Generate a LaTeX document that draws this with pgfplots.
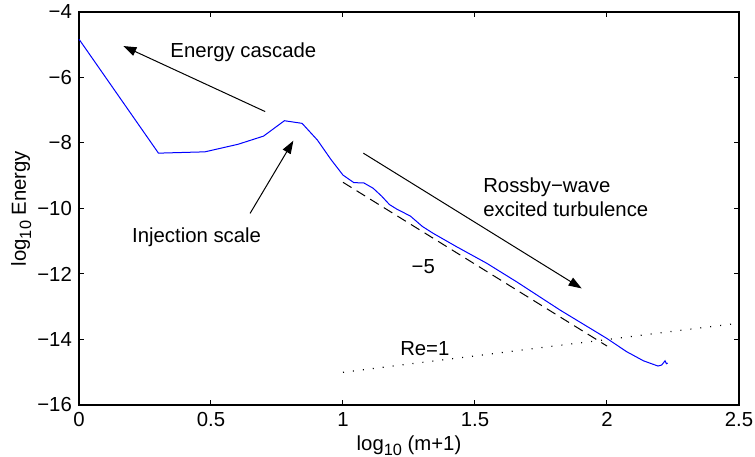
\documentclass[border=0pt]{standalone}
\usepackage{fontspec}
\setmainfont{Liberation Sans}
\usepackage{pgfplots}
\pgfplotsset{compat=1.18}
\usetikzlibrary{arrows.meta}
\newcommand{\sub}[1]{\raisebox{-0.5ex}{\fontsize{8.2}{9}\selectfont #1}}
\begin{document}
\fontsize{10.2}{12}\selectfont
\begin{tikzpicture}
\begin{axis}[name=ax, at={(0,0)}, anchor=south west,
  scale only axis, width=330bp, height=196.5bp,
  xmin=0, xmax=2.5, ymin=-16, ymax=-4,
  xtick={0,0.5,1,1.5,2,2.5}, xticklabels={0,0.5,1,1.5,2,2.5},
  ytick={-16,-14,-12,-10,-8,-6,-4},
  yticklabels={−16,−14,−12,−10,−8,−6,−4},
  tick align=inside, major tick length=2.5bp,
  tick style={black, line width=0.5bp},
  axis line style={line width=0.6bp},
  every tick label/.append style={font=\fontsize{10.2}{12}\selectfont},
  xticklabel style={yshift=0bp},
  xlabel={log\sub{10} (m+1)}, ylabel={log\sub{10} Energy},
  label style={font=\fontsize{10.2}{12}\selectfont},
  xlabel style={yshift=2.5bp},
  ylabel style={yshift=-4bp},
  clip=false,
]
\addplot[blue, line width=0.5bp] coordinates {
(0,-4.83) (0.301,-8.31) (0.477,-8.27) (0.602,-8.04) (0.699,-7.79)
(0.778,-7.32) (0.845,-7.40) (0.903,-7.91) (0.954,-8.50) (1.0,-8.98)
(1.041,-9.21) (1.079,-9.22) (1.114,-9.38) (1.146,-9.62) (1.176,-9.88)
(1.204,-10.02) (1.255,-10.23) (1.301,-10.55) (1.342,-10.76) (1.431,-11.17)
(1.544,-11.67) (1.658,-12.24) (1.822,-13.1) (2.0,-13.97) (2.074,-14.37)
(2.138,-14.65) (2.193,-14.81) (2.207,-14.78) (2.22,-14.65) (2.225,-14.74) (2.23,-14.72)
};
\addplot[black, line width=0.5bp, dash pattern=on 5bp off 3bp] coordinates {(1.0,-9.2) (2.0,-14.2)};
\addplot[black, line width=0.6bp, dash pattern=on 0.5bp off 4.5bp] coordinates {(1.0,-15.0) (2.5,-13.5)};
\draw[-{Triangle[length=6.5bp,width=4.5bp]}, line width=0.5bp] (axis cs:0.705,-7.04) -- (axis cs:0.168,-5.04);
\draw[-{Triangle[length=6.5bp,width=4.5bp]}, line width=0.5bp] (axis cs:0.648,-10.15) -- (axis cs:0.812,-7.93);
\draw[-{Triangle[length=6.5bp,width=4.5bp]}, line width=0.5bp] (axis cs:1.077,-8.31) -- (axis cs:1.904,-12.44);
\node[anchor=west, inner sep=0pt] at (axis cs:0.345,-5.22) {Energy cascade};
\node[anchor=west, inner sep=0pt] at (axis cs:0.2,-10.87) {Injection scale};
\node[anchor=west, align=left, inner sep=0pt] at (axis cs:1.53,-9.65) {Rossby−wave\\excited turbulence};
\node[inner sep=0pt] at (axis cs:1.304,-11.78) {−5};
\node[inner sep=0pt] at (axis cs:1.31,-14.27) {Re=1};
\end{axis}
\pgfresetboundingbox
\useasboundingbox ([xshift=-39.5bp,yshift=-26bp]ax.south west) rectangle ([xshift=8bp,yshift=6bp]ax.north east);
\end{tikzpicture}
\end{document}
